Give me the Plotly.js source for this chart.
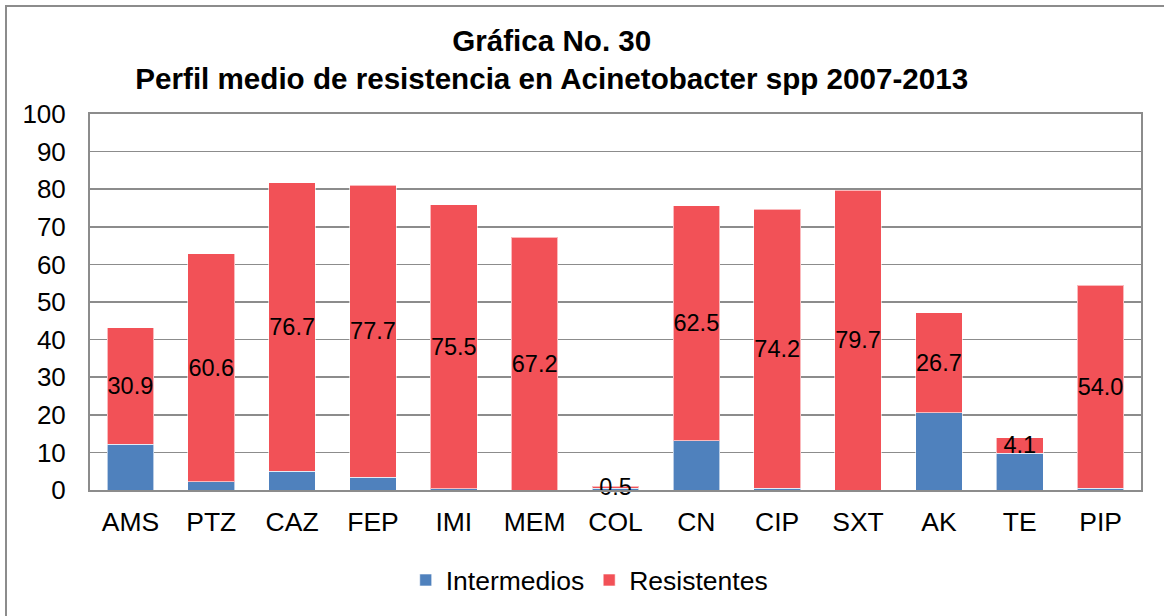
<!DOCTYPE html>
<html>
<head>
<meta charset="utf-8">
<script src="https://cdn.plot.ly/plotly-3.0.1.min.js"></script>
<style>
  html, body { margin: 0; padding: 0; background: #fff; overflow: hidden; }
  #chart { position: absolute; left: 0; top: 0; width: 1164px; height: 616px; }
  #frame { position: absolute; left: 5px; top: 5px; width: 1300px; height: 800px;
           border-left: 2px solid #8c8c8c; border-top: 2px solid #8c8c8c; pointer-events: none; }
</style>
</head>
<body>
<div id="chart"></div>
<div id="frame"></div>
<script>
const categories = ["AMS", "PTZ", "CAZ", "FEP", "IMI", "MEM", "COL", "CN", "CIP", "SXT", "AK", "TE", "PIP"];
const intermedios = [12.2, 2.2, 5.0, 3.4, 0.3, 0.0, 0.5, 13.1, 0.5, 0.0, 20.5, 9.8, 0.5];
const resistentes = [30.9, 60.6, 76.7, 77.7, 75.5, 67.2, 0.5, 62.5, 74.2, 79.7, 26.7, 4.1, 54.0];
const seriesNames = ["Intermedios", "Resistentes"];
const titleLines = ["Gráfica No. 30", "Perfil medio de resistencia en Acinetobacter spp 2007-2013"];

const FONT = "Liberation Sans, Arial, Helvetica, sans-serif";

const traces = [
  {
    type: "bar", name: seriesNames[0], x: categories, y: intermedios,
    marker: { color: "#4F81BD", line: { color: "rgba(255,255,255,0.6)", width: 1 } },
    hoverinfo: "skip"
  },
  {
    type: "bar", name: seriesNames[1], x: categories, y: resistentes,
    marker: { color: "#F25157", line: { color: "rgba(255,255,255,0.6)", width: 1 } },
    texttemplate: "%{y:.1f}", textposition: "inside", insidetextanchor: "middle",
    textangle: 0, constraintext: "none", cliponaxis: false,
    textfont: { family: FONT, size: 23.5, color: "#000" },
    hoverinfo: "skip"
  }
];

const layout = {
  width: 1164, height: 616,
  barmode: "stack", bargap: 0.423,
  paper_bgcolor: "#fff", plot_bgcolor: "#fff",
  margin: { l: 90, r: 23, t: 114, b: 126, pad: 0 },
  font: { family: FONT, color: "#000" },
  title: {
    text: "<b>" + titleLines[0] + "</b><br><b>" + titleLines[1] + "</b>",
    font: { family: FONT, size: 29.6, color: "#000" },
    x: 0.474, xref: "container", xanchor: "center",
    y: 0.918, yref: "container", yanchor: "top"
  },
  xaxis: {
    type: "category", showgrid: false, ticks: "",
    showline: true, linecolor: "#8c8c8c", linewidth: 2, mirror: true,
    tickfont: { family: FONT, size: 26.5, color: "#000" }, ticklabelstandoff: 7
  },
  yaxis: {
    range: [0, 100], dtick: 10, tick0: 0,
    showgrid: true, gridcolor: "#8c8c8c", gridwidth: 1.6,
    showline: true, linecolor: "#8c8c8c", linewidth: 2, mirror: true,
    zeroline: false, ticks: "", ticklabelstandoff: 17,
    tickfont: { family: FONT, size: 26, color: "#000" }
  },
  legend: {
    orientation: "h", x: 0.475, xanchor: "center", y: 0.058, yref: "container", yanchor: "middle",
    font: { family: FONT, size: 26.5, color: "#000" }, traceorder: "normal"
  },
  showlegend: true
};

Plotly.newPlot("chart", traces, layout, { staticPlot: true, displayModeBar: false });
</script>
</body>
</html>
